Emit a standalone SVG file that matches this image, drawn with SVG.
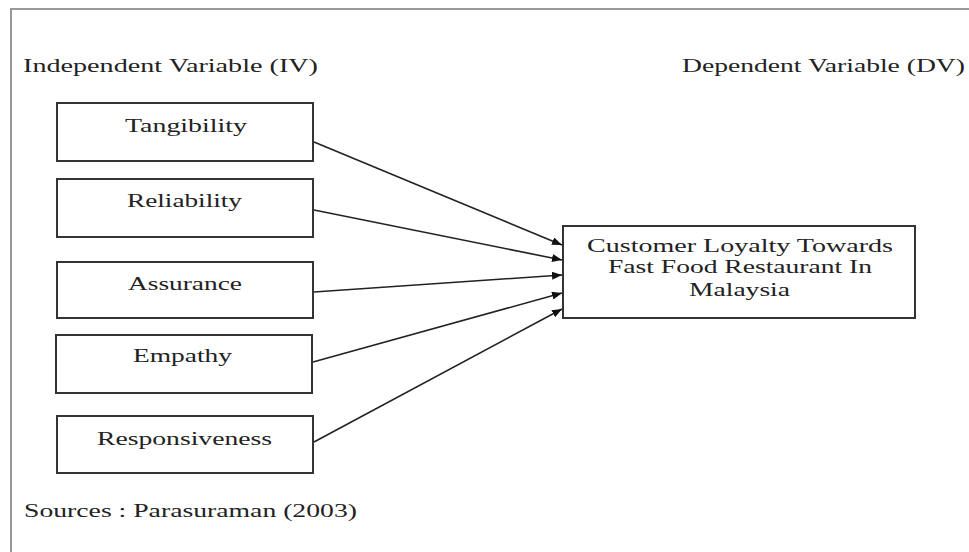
<svg xmlns="http://www.w3.org/2000/svg" width="969" height="552" viewBox="0 0 969 552">
<style>
  text { font-family: "Liberation Serif", "Times New Roman", serif; font-size: 18px; fill: #222; }
  .box { fill: #fff; stroke: #333; stroke-width: 2; }
  .conn { stroke: #222; stroke-width: 1.6; fill: none; marker-end: url(#arrow); }
</style>
<defs>
  <marker id="arrow" viewBox="0 0 10 8" refX="10" refY="4" markerWidth="10" markerHeight="8" markerUnits="userSpaceOnUse" orient="auto">
    <path d="M0,0 L10,4 L0,8 Z" fill="#111"/>
  </marker>
</defs>
<rect width="969" height="552" fill="#fff"/>
<path d="M11,552 L11,9 L969,9" fill="none" stroke="#999" stroke-width="2"/>

<text x="23" y="72" textLength="295" lengthAdjust="spacingAndGlyphs">Independent Variable (IV)</text>
<text x="682" y="72" textLength="283" lengthAdjust="spacingAndGlyphs">Dependent Variable (DV)</text>

<g id="tangibility">
  <rect class="box" x="57" y="103" width="256" height="58"/>
  <text x="125" y="132" textLength="122" lengthAdjust="spacingAndGlyphs">Tangibility</text>
</g>
<g id="reliability">
  <rect class="box" x="57" y="179" width="256" height="58"/>
  <text x="127" y="207" textLength="115" lengthAdjust="spacingAndGlyphs">Reliability</text>
</g>
<g id="assurance">
  <rect class="box" x="57" y="262" width="256" height="56"/>
  <text x="128" y="290" textLength="114" lengthAdjust="spacingAndGlyphs">Assurance</text>
</g>
<g id="empathy">
  <rect class="box" x="56" y="335" width="256" height="58"/>
  <text x="133" y="362" textLength="99" lengthAdjust="spacingAndGlyphs">Empathy</text>
</g>
<g id="responsiveness">
  <rect class="box" x="57" y="416" width="256" height="57"/>
  <text x="97" y="445" textLength="175" lengthAdjust="spacingAndGlyphs">Responsiveness</text>
</g>
<g id="loyalty">
  <rect class="box" x="563" y="226" width="352" height="92"/>
  <text x="587" y="252" textLength="306" lengthAdjust="spacingAndGlyphs">Customer Loyalty Towards</text>
  <text x="608" y="273" textLength="264" lengthAdjust="spacingAndGlyphs">Fast Food Restaurant In</text>
  <text x="689" y="296" textLength="101" lengthAdjust="spacingAndGlyphs">Malaysia</text>
</g>

<g id="connectors">
  <line class="conn" x1="314" y1="142" x2="562" y2="245"/>
  <line class="conn" x1="314" y1="210" x2="562" y2="260"/>
  <line class="conn" x1="314" y1="292" x2="562" y2="275"/>
  <line class="conn" x1="313" y1="362" x2="562" y2="293"/>
  <line class="conn" x1="314" y1="442" x2="562" y2="309"/>
</g>

<text x="24" y="517" textLength="333" lengthAdjust="spacingAndGlyphs">Sources : Parasuraman (2003)</text>
</svg>
